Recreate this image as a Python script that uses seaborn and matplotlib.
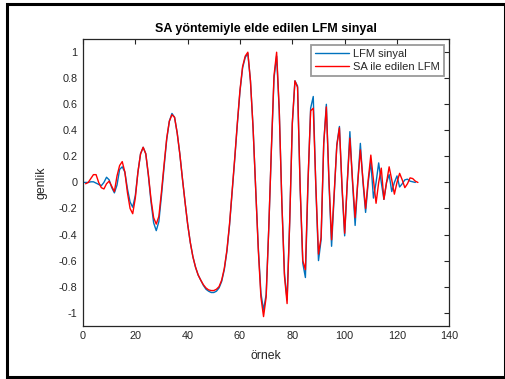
import numpy as np
import pandas as pd
import matplotlib
matplotlib.use("Agg")
import matplotlib.pyplot as plt
from matplotlib.patches import Rectangle
import seaborn as sns

# ---- data ----
blue_x = list(range(0, 128))
blue_y = [0.00, 0.00, 0.00, 0.005, 0.005, -0.005, -0.015, -0.025, 0.00, 0.04,
          0.02, -0.04, -0.08, -0.02, 0.10, 0.12, 0.08, -0.05, -0.15, -0.19,
          -0.10, 0.08, 0.22, 0.27, 0.22, 0.05, -0.15, -0.31, -0.37, -0.30,
          -0.10, 0.12, 0.33, 0.47, 0.53, 0.50, 0.38, 0.22, 0.03, -0.15,
          -0.32, -0.46, -0.57, -0.65, -0.71, -0.75, -0.79, -0.82, -0.835, -0.845,
          -0.845, -0.835, -0.81, -0.76, -0.67, -0.53, -0.33, -0.08, 0.18, 0.45,
          0.70, 0.88, 0.96, 0.99, 0.78, 0.42, -0.05, -0.50, -0.85, -0.98,
          -0.86, -0.35, 0.25, 0.80, 0.97, 0.55, -0.15, -0.70, -0.90, -0.30,
          0.45, 0.78, 0.74, -0.05, -0.62, -0.73, 0.00, 0.57, 0.66, -0.05,
          -0.60, -0.44, 0.30, 0.60, 0.00, -0.49, -0.10, 0.29, 0.43, -0.05,
          -0.41, 0.00, 0.39, 0.00, -0.33, 0.00, 0.30, 0.00, -0.23, 0.00,
          0.16, -0.12, 0.00, 0.15, 0.00, -0.13, 0.00, 0.06, -0.07, 0.00,
          0.05, -0.035, -0.01, 0.02, 0.025, 0.01, 0.005, 0.00]

red_x = list(range(1, 129))
red_y = [-0.01, 0.00, 0.03, 0.06, 0.06, 0.00, -0.04, -0.05, -0.01, 0.01,
         -0.03, -0.07, 0.05, 0.13, 0.16, 0.08, -0.08, -0.20, -0.24, -0.12,
         0.08, 0.22, 0.27, 0.22, 0.06, -0.13, -0.27, -0.32, -0.26, -0.07,
         0.14, 0.34, 0.47, 0.52, 0.50, 0.38, 0.22, 0.03, -0.15, -0.32,
         -0.46, -0.57, -0.65, -0.71, -0.75, -0.785, -0.81, -0.825, -0.83, -0.83,
         -0.82, -0.80, -0.75, -0.66, -0.52, -0.32, -0.07, 0.19, 0.46, 0.71,
         0.89, 0.97, 1.00, 0.78, 0.42, -0.06, -0.52, -0.88, -1.03, -0.88,
         -0.35, 0.26, 0.82, 1.00, 0.56, -0.16, -0.72, -0.93, -0.30, 0.46,
         0.78, 0.73, -0.04, -0.60, -0.67, 0.02, 0.55, 0.57, -0.03, -0.55,
         -0.42, 0.30, 0.58, 0.02, -0.44, -0.08, 0.28, 0.42, -0.03, -0.39,
         0.00, 0.34, 0.02, -0.27, 0.00, 0.25, 0.02, -0.20, 0.02, 0.21,
         0.02, -0.16, 0.00, 0.11, -0.13, 0.00, 0.12, 0.02, -0.09, 0.00,
         0.07, 0.02, -0.04, -0.01, 0.035, 0.03, 0.01, 0.00]

x_ticks = [0, 20, 40, 60, 80, 100, 120, 140]
y_ticks = [-1, -0.8, -0.6, -0.4, -0.2, 0, 0.2, 0.4, 0.6, 0.8, 1]
y_tick_labels = ["-1", "-0.8", "-0.6", "-0.4", "-0.2", "0", "0.2", "0.4", "0.6", "0.8", "1"]

title = "SA yöntemiyle elde edilen LFM sinyal"
xlabel = "örnek"
ylabel = "genlik"
label_blue = "LFM sinyal"
label_red = "SA ile edilen LFM"

# ---- style ----
sns.set_style("white")
plt.rcParams["font.family"] = ["Liberation Sans", "DejaVu Sans"]
plt.rcParams["xtick.direction"] = "in"
plt.rcParams["ytick.direction"] = "in"
plt.rcParams["xtick.top"] = True
plt.rcParams["ytick.right"] = True

fig = plt.figure(figsize=(5.06, 3.79), dpi=100)
ax = fig.add_axes([0.164, 0.1406, 0.724, 0.756])

df_b = pd.DataFrame({"x": blue_x, "y": blue_y})
df_r = pd.DataFrame({"x": red_x, "y": red_y})
sns.lineplot(data=df_b, x="x", y="y", ax=ax, color="#0072BD", linewidth=1.0,
             label=label_blue, estimator=None, sort=False)
sns.lineplot(data=df_r, x="x", y="y", ax=ax, color="#FF0000", linewidth=1.0,
             label=label_red, estimator=None, sort=False)

ax.set_xlim(0, 140)
ax.set_ylim(-1.1, 1.1)
ax.set_xticks(x_ticks)
ax.set_yticks(y_ticks)
ax.set_yticklabels(y_tick_labels)
ax.tick_params(axis="both", which="both", length=3.5, width=0.8,
               colors="#262626", labelsize=7.8, pad=4)
for s in ax.spines.values():
    s.set_color("#262626")
    s.set_linewidth(0.9)

ax.set_title(title, fontsize=9.0, fontweight="bold", pad=5, color="black")
ax.set_xlabel(xlabel, fontsize=8.8, color="#262626", labelpad=6)
ax.set_ylabel(ylabel, fontsize=8.8, color="#262626", labelpad=8)

leg = ax.legend(loc="upper right", fontsize=8.0, frameon=True, fancybox=False,
                handlelength=3.0, handletextpad=0.4, borderpad=0.35,
                labelspacing=0.3, borderaxespad=0.5)
leg.get_frame().set_edgecolor("#808080")
leg.get_frame().set_linewidth(1.3)
for t in leg.get_texts():
    t.set_color("#262626")

fig.patches.append(Rectangle((0.0135, 0.005), 0.984, 0.984, transform=fig.transFigure,
                             fill=False, edgecolor="black", linewidth=2.2))

fig.savefig("out.png", dpi=100)
